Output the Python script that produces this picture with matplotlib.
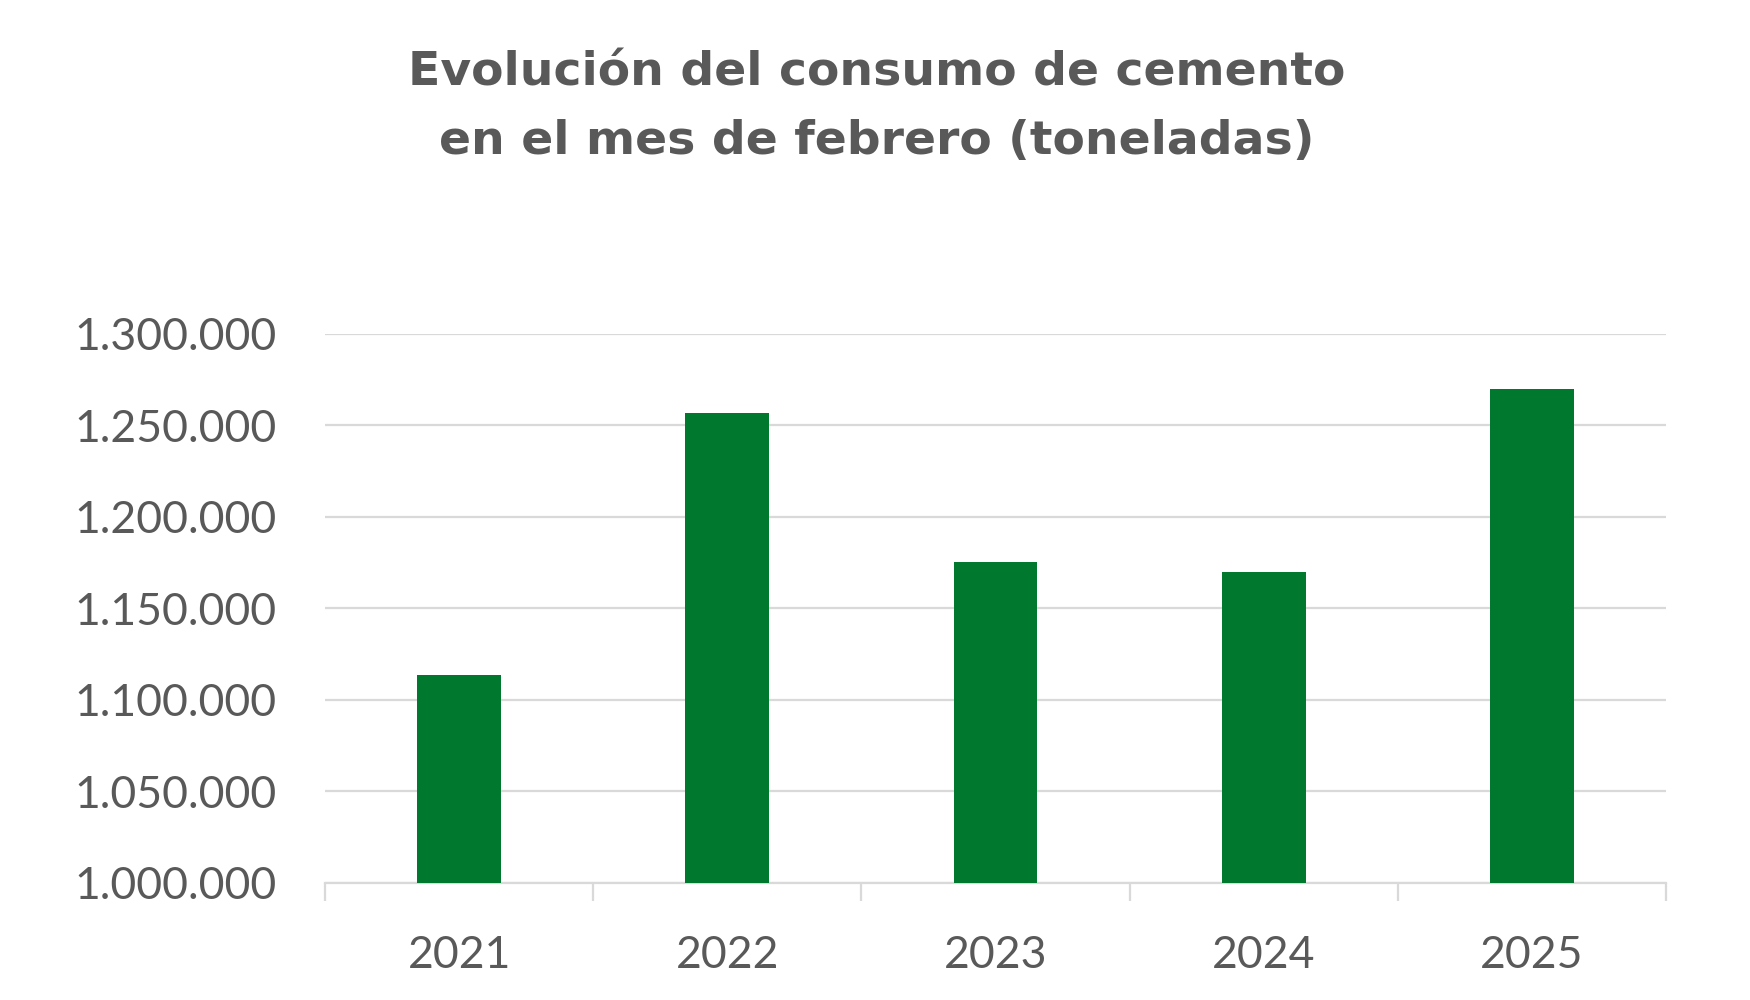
import matplotlib.pyplot as plt
from matplotlib.ticker import FuncFormatter, FixedLocator

# ── Data ──────────────────────────────────────────────────────────────────────
years   = ["2021", "2022", "2023", "2024", "2025"]
tonnes  = [1113700, 1256800, 1175400, 1169600, 1270100]
y_ticks = [1000000, 1050000, 1100000, 1150000, 1200000, 1250000, 1300000]

title_lines = ["Evolución del consumo de cemento",
               "en el mes de febrero (toneladas)"]

GREEN = "#00782D"
GRAY_TXT = "#595959"
GRAY_LN = "#D9D9D9"

fig = plt.figure(figsize=(17.5, 10), dpi=100)
ax = fig.add_axes([0.1857, 0.1174, 0.7663, 0.5486])

x = list(range(len(years)))
ax.bar(x, tonnes, width=0.313, color=GREEN, zorder=3)

ax.set_xlim(-0.5, len(years) - 0.5)
ax.set_ylim(y_ticks[0], y_ticks[-1])

# y axis with dotted thousands separator
ax.yaxis.set_major_locator(FixedLocator(y_ticks))
ax.yaxis.set_major_formatter(FuncFormatter(lambda v, p: f"{int(v):,}".replace(",", ".")))
ax.grid(axis="y", color=GRAY_LN, linewidth=1.6, zorder=0)
ax.tick_params(axis="y", length=0, pad=35, labelsize=32, labelcolor=GRAY_TXT)

# x axis: labels at centres, tick marks between categories
ax.set_xticks(x)
ax.set_xticklabels(years)
ax.set_xticks([i - 0.5 for i in range(len(years) + 1)], minor=True)
ax.tick_params(axis="x", which="major", length=0, pad=38, labelsize=32, labelcolor=GRAY_TXT)
ax.tick_params(axis="x", which="minor", length=13, width=1.6, color=GRAY_LN, direction="out")

for side in ["top", "right", "left"]:
    ax.spines[side].set_visible(False)
ax.spines["bottom"].set_color(GRAY_LN)
ax.spines["bottom"].set_linewidth(1.6)

for lbl in ax.get_xticklabels() + ax.get_yticklabels():
    lbl.set_fontfamily("Lato")

# title, two lines (wide bold face to match the stretched original)
fig.text(0.501, 0.915, title_lines[0], ha="center", va="baseline",
         fontsize=34, fontweight="bold", color=GRAY_TXT, family="DejaVu Sans")
fig.text(0.501, 0.846, title_lines[1], ha="center", va="baseline",
         fontsize=34, fontweight="bold", color=GRAY_TXT, family="DejaVu Sans")

fig.savefig("out.png", dpi=100)
